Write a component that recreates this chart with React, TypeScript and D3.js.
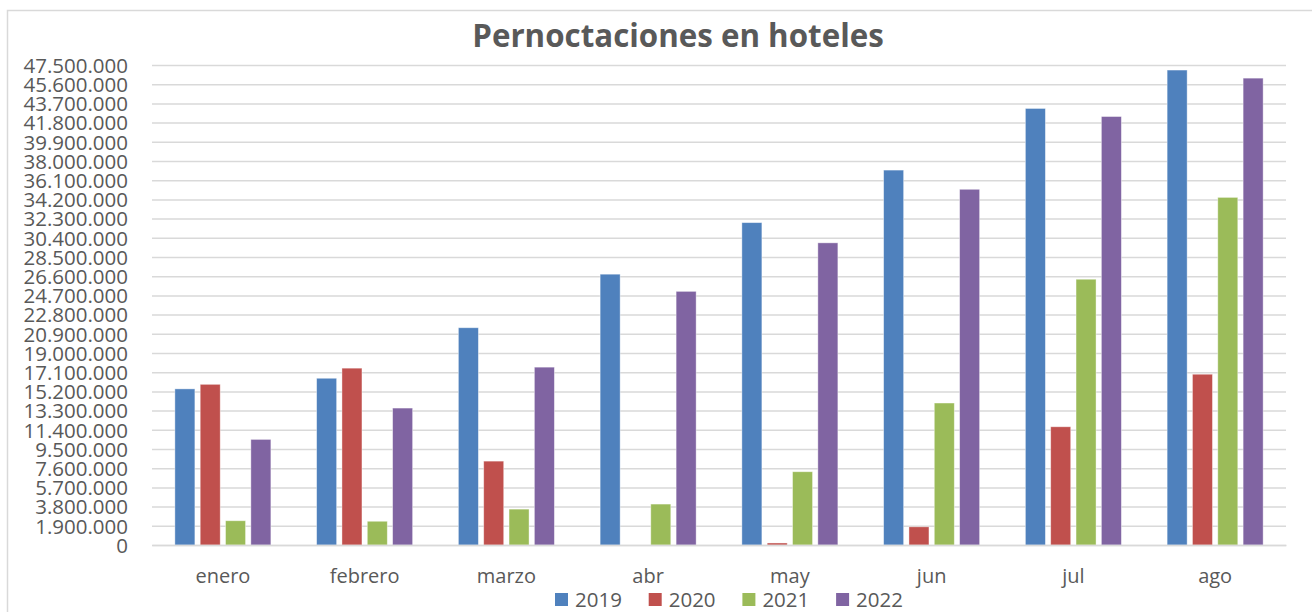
import { useEffect, useRef } from "react";
import * as d3 from "d3";

const months = ["enero", "febrero", "marzo", "abr", "may", "jun", "jul", "ago"];
const years = ["2019", "2020", "2021", "2022"];
const colors = ["#4F81BD", "#C0504D", "#9BBB59", "#8064A2"];

const v2019 = [15.45, 16.5, 21.5, 26.8, 31.9, 37.1, 43.2, 47.0];
const v2020 = [15.9, 17.5, 8.3, 0, 0.2, 1.8, 11.7, 16.9];
const v2021 = [2.4, 2.35, 3.55, 4.05, 7.25, 14.05, 26.3, 34.4];
const v2022 = [10.45, 13.55, 17.6, 25.1, 29.9, 35.2, 42.4, 46.2];

// tick step 1.900.000 up to 47.500.000
const tickStep = 1900000;
const tickCount = 25;

const fmt = (v: number) => d3.format(",")(v).replace(/,/g, ".");

function App() {
  const ref = useRef<SVGSVGElement>(null);

  useEffect(() => {
    const W = 1312;
    const H = 612;
    const margin = { top: 65, right: 26, bottom: 67, left: 152 };
    const svg = d3.select(ref.current);
    svg.selectAll("*").remove();

    const series = [v2019, v2020, v2021, v2022];
    const data = months.map((m, i) => ({
      month: m,
      values: years.map((y, j) => ({ year: y, value: series[j][i] * 1e6, color: colors[j] })),
    }));

    // marco
    svg
      .append("rect")
      .attr("x", 7.5)
      .attr("y", 10.5)
      .attr("width", W + 20)
      .attr("height", H + 20)
      .attr("fill", "#fff")
      .attr("stroke", "#d9d9d9")
      .attr("stroke-width", 1.5);

    const x0 = d3
      .scaleBand()
      .domain(months)
      .range([margin.left, W - margin.right]);
    const groupW = 96;
    const x1 = d3
      .scaleBand()
      .domain(years)
      .range([(x0.bandwidth() - groupW) / 2, (x0.bandwidth() + groupW) / 2])
      .paddingInner(0.21);

    const ticks = d3.range(0, tickCount + 1).map((i) => i * tickStep);
    const y = d3
      .scaleLinear()
      .domain([0, tickStep * tickCount])
      .range([H - margin.bottom, margin.top]);

    // rejilla
    const yAxis = svg
      .append("g")
      .attr("transform", `translate(${margin.left},0)`)
      .call(
        d3
          .axisLeft(y)
          .tickValues(ticks)
          .tickSize(-(W - margin.left - margin.right))
          .tickPadding(24)
          .tickFormat((d) => fmt(d as number))
      );
    yAxis.select(".domain").remove();
    yAxis.selectAll(".tick line").attr("stroke", "#d9d9d9").attr("stroke-width", 1.5);
    yAxis
      .selectAll(".tick text")
      .attr("fill", "#595959")
      .style("font-family", "'Open Sans', sans-serif")
      .style("font-size", "20.5px")
      .attr("dy", "0.36em");

    // barras
    svg
      .append("g")
      .selectAll("g")
      .data(data)
      .join("g")
      .attr("transform", (d) => `translate(${x0(d.month)},0)`)
      .selectAll("rect")
      .data((d) => d.values)
      .join("rect")
      .attr("x", (d) => x1(d.year)!)
      .attr("y", (d) => y(d.value))
      .attr("width", x1.bandwidth())
      .attr("height", (d) => y(0) - y(d.value))
      .attr("fill", (d) => d.color)
      .attr("stroke", "#ffffff")
      .attr("stroke-opacity", 0.5)
      .attr("stroke-width", 0.8);

    // eje x
    const xAxis = svg
      .append("g")
      .attr("transform", `translate(0,${y(0)})`)
      .call(d3.axisBottom(x0).tickSize(0).tickPadding(24));
    xAxis.select(".domain").attr("stroke", "#d9d9d9").attr("stroke-width", 1.5);
    xAxis
      .selectAll(".tick text")
      .attr("fill", "#595959")
      .style("font-family", "'Open Sans', sans-serif")
      .style("font-size", "20px");

    // título
    svg
      .append("text")
      .attr("x", 678)
      .attr("y", 47)
      .attr("text-anchor", "middle")
      .attr("fill", "#595959")
      .style("font-family", "'Open Sans', sans-serif")
      .style("font-weight", "bold")
      .style("font-size", "31.3px")
      .text("Pernoctaciones en hoteles");

    // leyenda
    const legend = svg
      .append("g")
      .selectAll("g")
      .data(years)
      .join("g")
      .attr("transform", (d, i) => `translate(${555 + i * 93.7},593)`);
    legend
      .append("rect")
      .attr("width", 13)
      .attr("height", 13)
      .attr("fill", (d, i) => colors[i]);
    legend
      .append("text")
      .attr("x", 20)
      .attr("y", 13.5)
      .attr("fill", "#595959")
      .style("font-family", "'Open Sans', sans-serif")
      .style("font-size", "20.5px")
      .text((d) => d);
  }, []);

  return (
    <svg
      ref={ref}
      width={1312}
      height={612}
      style={{ position: "absolute", left: 0, top: 0, display: "block" }}
    ></svg>
  );
}

export default App;
